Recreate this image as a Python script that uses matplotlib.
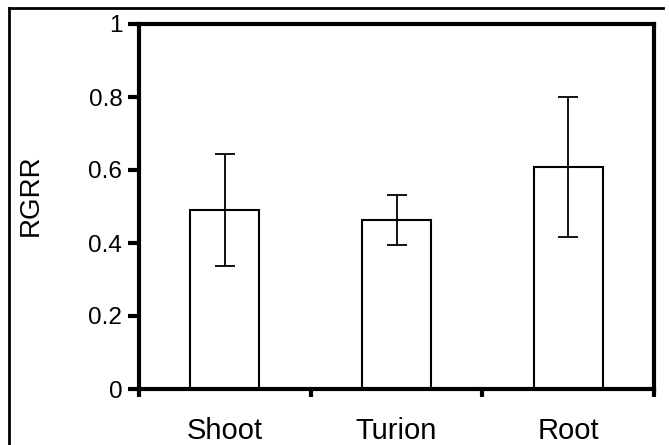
import numpy as np
import matplotlib
matplotlib.use('Agg')
import matplotlib.pyplot as plt
from matplotlib.lines import Line2D

plt.rcParams['font.family'] = ['Liberation Sans', 'DejaVu Sans']

categories = ['Shoot', 'Turion', 'Root']
rgrr = [0.49, 0.463, 0.608]
rgrr_err = [0.153, 0.068, 0.192]
y_ticks = [0, 0.2, 0.4, 0.6, 0.8, 1]
y_tick_labels = ['0', '0.2', '0.4', '0.6', '0.8', '1']

fig = plt.figure(figsize=(6.69, 4.45), dpi=100)
ax = fig.add_axes([139 / 669, 1 - 389 / 445, (654 - 139) / 669, (389 - 24) / 445])

x = np.arange(len(categories))
ax.bar(x, rgrr, width=0.4, color='white', edgecolor='black', linewidth=1.5, zorder=2)
ax.errorbar(x, rgrr, yerr=rgrr_err, fmt='none', ecolor='black', elinewidth=1.3,
            capsize=7, capthick=1.3, zorder=3)

ax.set_xlim(-0.5, len(categories) - 0.5)
ax.set_ylim(0, 1)
ax.set_yticks(y_ticks)
ax.set_yticklabels(y_tick_labels, fontsize=17.5)
ax.set_xticks(x)
ax.set_xticklabels(categories, fontsize=21)
ax.set_xticks(np.arange(len(categories) + 1) - 0.5, minor=True)
ax.tick_params(axis='x', which='major', length=0, pad=20)
ax.tick_params(axis='x', which='minor', length=6, width=3, direction='out')
ax.tick_params(axis='y', length=8, width=3, direction='out', pad=4)
ax.set_ylabel('RGRR', fontsize=20)
ax.yaxis.set_label_coords(-0.184, 0.53)

for s in ax.spines.values():
    s.set_linewidth(3)

# outer frame (right and bottom edges cropped off)
fig.add_artist(Line2D([9 / 669, 663 / 669], [1 - 8 / 445, 1 - 8 / 445],
                      transform=fig.transFigure, color='black', linewidth=2))
fig.add_artist(Line2D([9 / 669, 9 / 669], [1 - 8 / 445, 0],
                      transform=fig.transFigure, color='black', linewidth=2))

fig.savefig('out.png', dpi=100)
